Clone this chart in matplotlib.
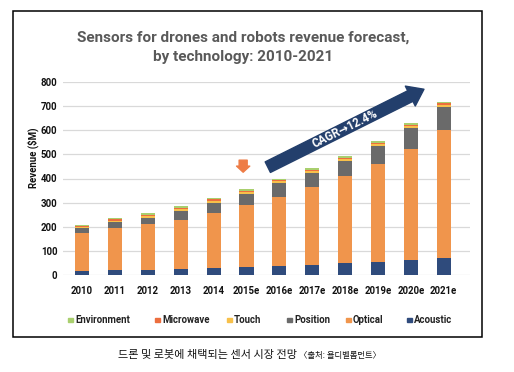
import matplotlib
matplotlib.use("Agg")
import matplotlib.pyplot as plt
from matplotlib.patches import Rectangle, FancyArrowPatch
import numpy as np

years = ['2010', '2011', '2012', '2013', '2014', '2015e',
         '2016e', '2017e', '2018e', '2019e', '2020e', '2021e']
acoustic = [16, 21, 22, 25, 30, 34, 36, 43, 48, 55, 62, 70]
optical = [158, 172, 188, 205, 228, 255, 289, 321, 362, 404, 461, 530]
position = [19, 26, 28, 35, 42, 48, 56, 60, 63, 75, 85, 96]
touch = [5, 6, 6, 7, 7, 7, 7, 6, 7, 8, 8, 8]
microwave = [5, 6, 6, 6, 6, 6, 6, 6, 7, 7, 7, 7]
environment = [5, 6, 6, 6, 7, 7, 6, 6, 7, 7, 7, 7]
yticks = [0, 100, 200, 300, 400, 500, 600, 700, 800]

series = [
    ('Acoustic', acoustic, '#2F4B7C'),
    ('Optical', optical, '#F0954C'),
    ('Position', position, '#6A6A6A'),
    ('Touch', touch, '#F7C04A'),
    ('Microwave', microwave, '#EC6E3E'),
    ('Environment', environment, '#A9CF6E'),
]

W, H = 514, 372
fig = plt.figure(figsize=(W / 100, H / 100), dpi=100)
FONT = ['Roboto', 'DejaVu Sans']

def px(x, y):
    return x / W, 1 - y / H

ax = fig.add_axes([63 / W, 1 - 275 / H, (470 - 63) / W, (275 - 82) / H])
x = np.arange(len(years))
bottom = np.zeros(len(years))
for name, vals, col in series:
    ax.bar(x, vals, width=0.43, bottom=bottom, color=col, label=name, zorder=3)
    bottom += np.array(vals)

ax.set_xlim(-0.58, 11.8)
ax.set_ylim(0, 800)
ax.set_yticks(yticks)
ax.set_xticks(x)
ax.set_xticklabels(years)
ax.grid(axis='y', color='#D9D9D9', linewidth=0.9, zorder=0)
for s in ax.spines.values():
    s.set_visible(False)
ax.tick_params(length=0)
ax.tick_params(axis='x', pad=8)
ax.tick_params(axis='y', pad=4)
for lab in ax.get_xticklabels() + ax.get_yticklabels():
    lab.set_fontfamily(FONT)
    lab.set_fontweight('bold')
    lab.set_fontsize(6.9)
    lab.set_color('#111111')

# CAGR arrow
arr = FancyArrowPatch((5.65, 447), (10.4, 770),
                      arrowstyle='Simple,tail_width=8.5,head_width=16,head_length=11',
                      color='#233F6C', zorder=5, mutation_scale=1,
                      shrinkA=0, shrinkB=0)
ax.add_patch(arr)
ax.text(8.0, 606, 'CAGR→12.4%', color='white', fontsize=8.3, fontweight='bold',
        family=['Roboto', 'DejaVu Sans'], rotation=26.6, rotation_mode='anchor',
        ha='center', va='center', zorder=6)

# small down arrow above 2015e
darr = FancyArrowPatch((4.9, 476), (4.9, 426),
                       arrowstyle='Simple,tail_width=5.8,head_width=9.5,head_length=4.4',
                       color='#EE7C46', zorder=5, mutation_scale=1,
                       shrinkA=0, shrinkB=0)
ax.add_patch(darr)

# title
fig.text(*px(243, 38), 'Sensors for drones and robots revenue forecast,',
         ha='center', va='center', fontsize=11, fontweight='bold',
         color='#595959', family=FONT)
fig.text(*px(243, 57), 'by technology: 2010-2021',
         ha='center', va='center', fontsize=11, fontweight='bold',
         color='#595959', family=FONT)

fig.text(*px(33, 158), 'Revenue ($M)', rotation=90, ha='center', va='center',
         fontsize=6.9, fontweight='bold', color='#111111', family=FONT)

# legend (manual layout)
leg_pos = {'Environment': 68, 'Microwave': 155, 'Touch': 227,
           'Position': 287, 'Optical': 346, 'Acoustic': 407}
for name, vals, col in series:
    lx = leg_pos[name]
    fig.patches.append(Rectangle(px(lx, 322), 5 / W, 4 / H, color=col,
                                 transform=fig.transFigure, figure=fig))
    fig.text(*px(lx + 7, 320), name, ha='left', va='center', fontsize=6.9,
             fontweight='bold', color='#222222', family=FONT)

# frame
fig.patches.append(Rectangle(px(13, 337), (482 - 13) / W, (337 - 11) / H,
                             fill=False, edgecolor='black', linewidth=1.1,
                             transform=fig.transFigure, figure=fig))

# caption
fig.text(*px(297, 355), '드론 및 로봇에 채택되는 센서 시장 전망', ha='right', va='center',
         fontsize=8.0, color='#111111', family=['Noto Sans CJK KR', 'DejaVu Sans'])
fig.text(*px(299, 355.5), '〈출처: 욜디벨롭먼트〉', ha='left', va='center',
         fontsize=6.0, color='#111111', family=['Noto Sans CJK KR', 'DejaVu Sans'])

fig.savefig('out.png', dpi=100)
